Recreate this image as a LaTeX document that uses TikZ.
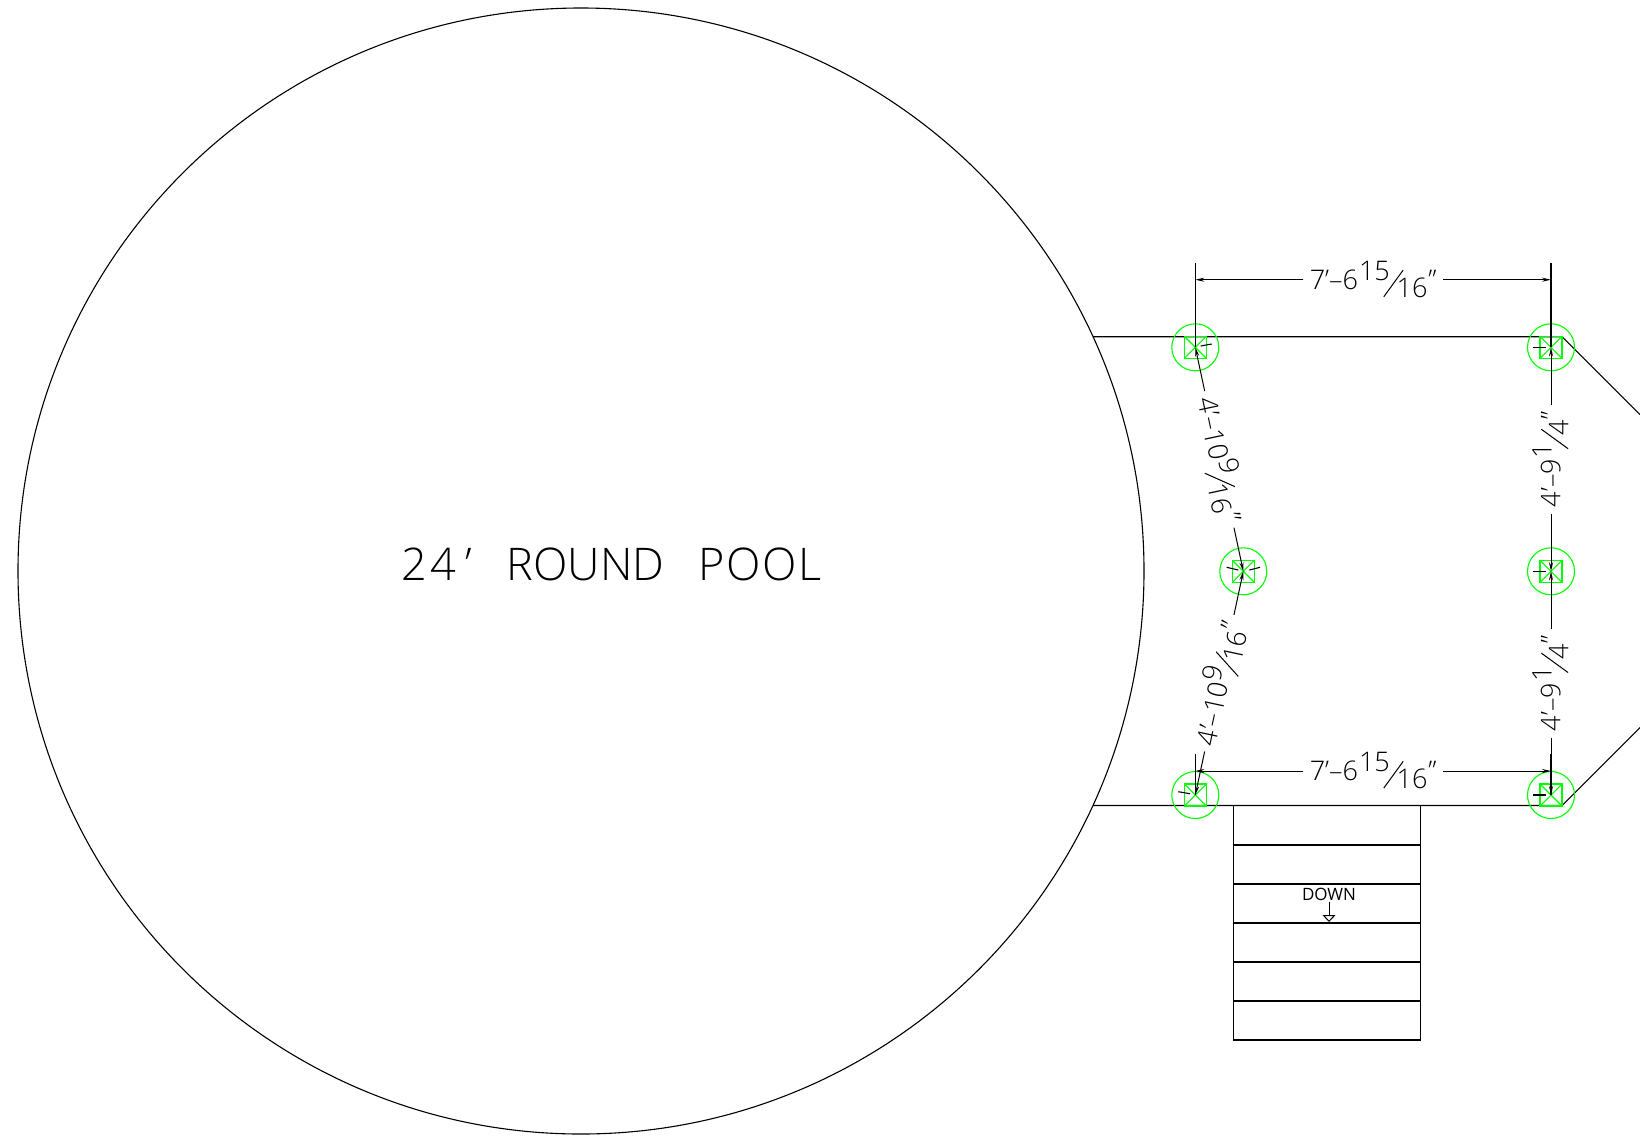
\documentclass[tikz,border=0pt]{standalone}
\usepackage{fontspec}
\usepackage{graphicx}
\setsansfont[UprightFont=* Light]{Open Sans}
\newfontfamily\downfont{Open Sans}
\usetikzlibrary{arrows.meta,calc}
\definecolor{postgreen}{RGB}{0,255,0}
% stacked fraction as the dimension text prints it
\newcommand{\dimfrac}[2]{\kern1pt\raisebox{8.7pt}{#1}\kern-6.5pt\raisebox{-8pt}{\rotatebox{54}{\rule{33pt}{1pt}}}\kern-7pt\raisebox{-8pt}{#2}\kern1pt}
\begin{document}
\begin{tikzpicture}[x=1pt,y=-1pt,line width=1.1pt,
    post/.style={
      % The shape:
      circle,minimum size=47pt,inner sep=0pt,
      % The rest
      draw=postgreen},
    postbox/.style={
      rectangle,minimum size=22pt,inner sep=0pt,
      draw=postgreen,
      path picture={
        \draw[postgreen] (path picture bounding box.north west) -- (path picture bounding box.south east);
        \draw[postgreen] (path picture bounding box.south west) -- (path picture bounding box.north east);}},
    dimlabel/.style={
      inner xsep=6pt,inner ysep=0pt,text height=18.7pt,text depth=0pt,
      font=\sffamily\fontsize{27}{27}\selectfont},
    dimline/.style={-{Stealth[length=9pt,width=4pt]},line width=1pt}]
    \useasboundingbox (0,0) rectangle (1640,1136);
    \node (pool) [circle,draw,minimum size=1126pt,inner sep=0pt] at (581,571) {};
    \node (poollabel) [font=\sffamily\fontsize{45}{45}\selectfont] at (612,564)
      {2\kern3pt 4\kern9pt ’\hspace{35pt}ROUND\hspace{34pt}{\addfontfeature{LetterSpace=4}POOL}};
    % deck outline
    \coordinate (pooltop) at (1093,336.7);
    \coordinate (poolbot) at (1093,805.5);
    \coordinate (decktop) at (1562,336.7);
    \coordinate (deckbot) at (1562,805.5);
    \coordinate (edgetop) at (1640,414.7);
    \coordinate (edgebot) at (1640,727.5);
    \draw (pooltop) -- (decktop) -- (edgetop);
    \draw (poolbot) -- (deckbot) -- (edgebot);
    % stairs
    \draw (1233.3,805.5) rectangle (1420.7,1040);
    \draw (1233.3,845) -- (1420.7,845);
    \draw (1233.3,884) -- (1420.7,884);
    \draw (1233.3,923) -- (1420.7,923);
    \draw (1233.3,962) -- (1420.7,962);
    \draw (1233.3,1001) -- (1420.7,1001);
    \node (down) [font=\downfont\fontsize{17}{17}\selectfont,inner sep=0pt,text height=12pt,text depth=0pt] at (1329,894) {DOWN};
    \coordinate (downtip) at (1329,922);
    \draw[-{Triangle[open,length=7pt,width=13pt]},line width=1pt] (down.south -| downtip) ++(0,1) -- (downtip);
    % posts
    \node (tl) [post] at (1195.3,347.3) {};
    \node (tr) [post] at (1551,347.3) {};
    \node (ml) [post] at (1243.3,571.3) {};
    \node (mr) [post] at (1551,571.3) {};
    \node (bl) [post] at (1195.3,795) {};
    \node (br) [post] at (1551,795) {};
    \node (tlbox) [postbox] at (tl) {};
    \node (trbox) [postbox] at (tr) {};
    \node (mlbox) [postbox] at (ml) {};
    \node (mrbox) [postbox] at (mr) {};
    \node (blbox) [postbox] at (bl) {};
    \node (brbox) [postbox] at (br) {};
    % extension lines
    \coordinate (tlext) at (1195.3,263);
    \coordinate (trext) at (1551,263);
    \coordinate (blext) at (1195.3,754);
    \coordinate (brext) at (1551,754);
    \draw (tlext) -- (tl.center);
    \draw (trext) -- (tr.center);
    \draw (blext) -- (bl.center);
    \draw (brext) -- (br.center);
    % ticks at the posts
    \draw (tl) ++(5.4,-1.3) -- ++(11,-2);
    \draw (tr) ++(-18,0) -- ++(12.5,0);
    \draw (ml) ++(-16.6,-4) -- ++(11.6,2.7);
    \draw (ml) ++(6,-1.3) -- ++(10.7,-2.7);
    \draw (mr) ++(-18,0) -- ++(12.5,0);
    \draw (bl) ++(-17,-3.3) -- ++(11.7,2);
    \draw (br) ++(-18,0) -- ++(12.5,0);
    % dimensions
    \coordinate (topdim) at (1373.15,279.7);
    \coordinate (botdim) at (1373.15,771);
    \node (toplabel) [dimlabel] at (topdim) {7’–6\dimfrac{15}{16}”};
    \node (botlabel) [dimlabel] at (botdim) {7’–6\dimfrac{15}{16}”};
    \node (slantup) [dimlabel,rotate=-78] at ($(tl)!.5!(ml)$) {4’–10\dimfrac{9}{16}”};
    \node (slantlo) [dimlabel,rotate=78] at ($(bl)!.5!(ml)$) {4’–10\dimfrac{9}{16}”};
    \node (rightup) [dimlabel,rotate=90] at ($(tr)!.5!(mr)$) {4’–9\dimfrac{1}{4}”};
    \node (rightlo) [dimlabel,rotate=90] at ($(br)!.5!(mr)$) {4’–9\dimfrac{1}{4}”};
    \draw[dimline] (toplabel) -- (topdim -| tl);
    \draw[dimline] (toplabel) -- (topdim -| tr);
    \draw[dimline] (botlabel) -- (botdim -| bl);
    \draw[dimline] (botlabel) -- (botdim -| br);
    \draw[dimline] (slantup) -- (tl.center);
    \draw[dimline] (slantup) -- (ml.center);
    \draw[dimline] (slantlo) -- (ml.center);
    \draw[dimline] (slantlo) -- (bl.center);
    \draw[dimline] (rightup) -- (tr.center);
    \draw[dimline] (rightup) -- (mr.center);
    \draw[dimline] (rightlo) -- (mr.center);
    \draw[dimline] (rightlo) -- (br.center);
  \end{tikzpicture}
\end{document}
